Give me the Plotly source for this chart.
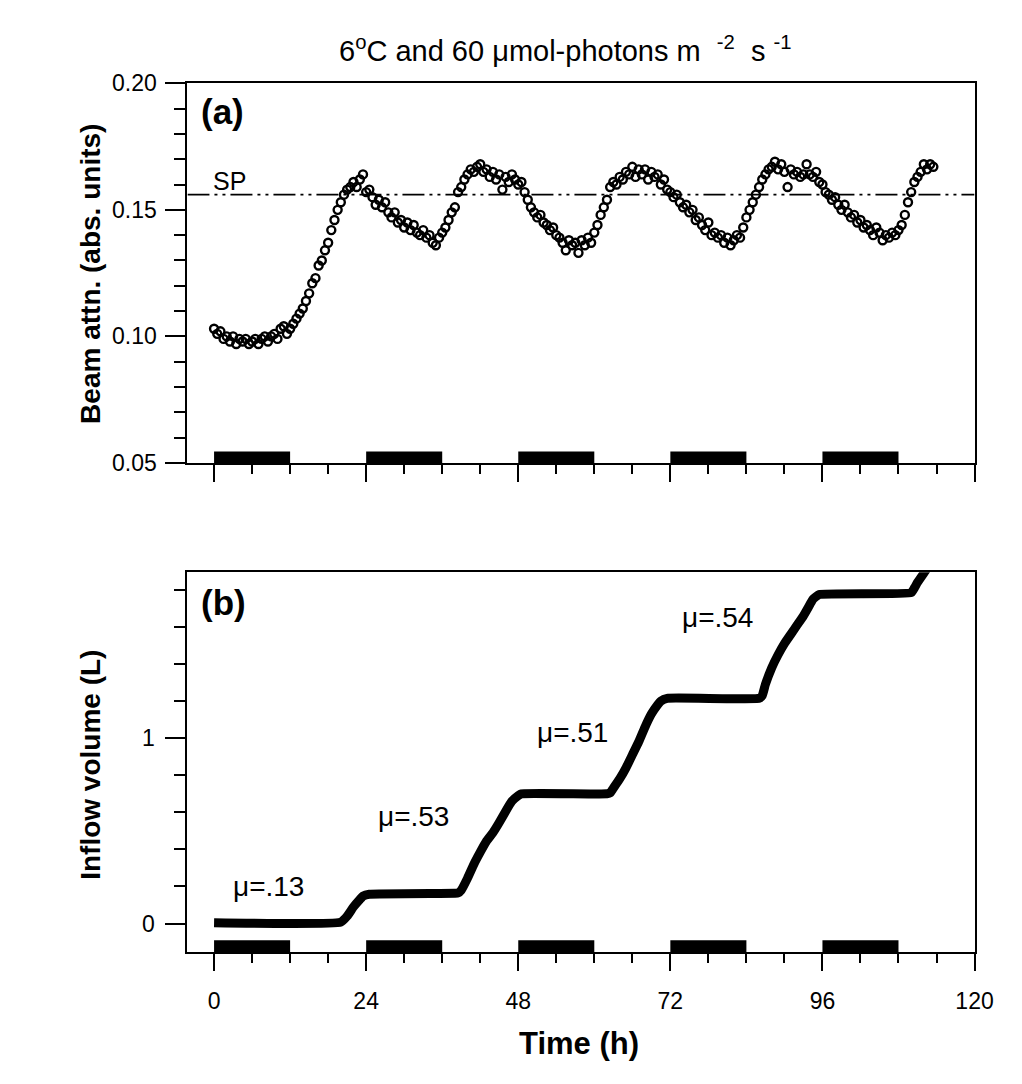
import plotly.graph_objects as go

# ---------------- data ----------------
beam_time = [0, 0.5, 1, 1.5, 2, 2.5, 3, 3.5, 4, 4.5, 5, 5.5, 6, 6.5, 7, 7.5, 8, 8.5, 9, 9.5,
             10, 10.5, 11, 11.5, 12, 12.5, 13, 13.5, 14, 14.5, 15, 15.5, 16, 16.5, 17, 17.5, 18, 18.5, 19, 19.5,
             20, 20.5, 21, 21.5, 22, 22.5, 23, 23.5, 24, 24.5, 25, 25.5, 26, 26.5, 27, 27.5, 28, 28.5, 29, 29.5,
             30, 30.5, 31, 31.5, 32, 32.5, 33, 33.5, 34, 34.5, 35, 35.5, 36, 36.5, 37, 37.5, 38, 38.5, 39, 39.5,
             40, 40.5, 41, 41.5, 42, 42.5, 43, 43.5, 44, 44.5, 45, 45.5, 46, 46.5, 47, 47.5, 48, 48.5, 49, 49.5,
             50, 50.5, 51, 51.5, 52, 52.5, 53, 53.5, 54, 54.5, 55, 55.5, 56, 56.5, 57, 57.5, 58, 58.5, 59, 59.5,
             60, 60.5, 61, 61.5, 62, 62.5, 63, 63.5, 64, 64.5, 65, 65.5, 66, 66.5, 67, 67.5, 68, 68.5, 69, 69.5,
             70, 70.5, 71, 71.5, 72, 72.5, 73, 73.5, 74, 74.5, 75, 75.5, 76, 76.5, 77, 77.5, 78, 78.5, 79, 79.5,
             80, 80.5, 81, 81.5, 82, 82.5, 83, 83.5, 84, 84.5, 85, 85.5, 86, 86.5, 87, 87.5, 88, 88.5, 89, 89.5,
             90, 90.5, 91, 91.5, 92, 92.5, 93, 93.5, 94, 94.5, 95, 95.5, 96, 96.5, 97, 97.5, 98, 98.5, 99, 99.5,
             100, 100.5, 101, 101.5, 102, 102.5, 103, 103.5, 104, 104.5, 105, 105.5, 106, 106.5, 107, 107.5, 108, 108.5, 109, 109.5,
             110, 110.5, 111, 111.5, 112, 112.5, 113, 113.5]

beam_attn = [0.103, 0.101, 0.102, 0.099, 0.100, 0.098, 0.100, 0.097, 0.099, 0.098,
             0.099, 0.097, 0.098, 0.099, 0.097, 0.099, 0.100, 0.098, 0.100, 0.101,
             0.099, 0.103, 0.104, 0.101, 0.103, 0.105, 0.107, 0.109, 0.111, 0.114,
             0.117, 0.121, 0.123, 0.128, 0.130, 0.134, 0.137, 0.142, 0.146, 0.150,
             0.153, 0.156, 0.158, 0.159, 0.161, 0.159, 0.162, 0.164, 0.157, 0.158,
             0.155, 0.152, 0.154, 0.151, 0.153, 0.149, 0.147, 0.149, 0.145, 0.146,
             0.143, 0.145, 0.142, 0.144, 0.141, 0.140, 0.142, 0.139, 0.140, 0.137,
             0.136, 0.139, 0.141, 0.143, 0.146, 0.149, 0.151, 0.157, 0.159, 0.162,
             0.164, 0.166, 0.165, 0.167, 0.168, 0.165, 0.166, 0.163, 0.165, 0.162,
             0.164, 0.158, 0.163, 0.161, 0.164, 0.162, 0.160, 0.161, 0.157, 0.154,
             0.151, 0.149, 0.147, 0.148, 0.145, 0.144, 0.142, 0.143, 0.140, 0.139,
             0.137, 0.134, 0.138, 0.136, 0.137, 0.133, 0.138, 0.136, 0.139, 0.137,
             0.141, 0.144, 0.148, 0.151, 0.154, 0.159, 0.161, 0.160, 0.163, 0.162,
             0.165, 0.164, 0.167, 0.163, 0.166, 0.164, 0.166, 0.162, 0.165, 0.163,
             0.164, 0.160, 0.162, 0.158, 0.157, 0.155, 0.156, 0.153, 0.151, 0.152,
             0.149, 0.150, 0.146, 0.147, 0.144, 0.142, 0.145, 0.140, 0.141, 0.139,
             0.140, 0.137, 0.139, 0.136, 0.138, 0.140, 0.139, 0.143, 0.147, 0.150,
             0.153, 0.156, 0.159, 0.162, 0.164, 0.166, 0.167, 0.169, 0.166, 0.168,
             0.165, 0.159, 0.166, 0.164, 0.165, 0.163, 0.164, 0.168, 0.164, 0.163,
             0.165, 0.161, 0.160, 0.157, 0.156, 0.154, 0.155, 0.152, 0.150, 0.152,
             0.149, 0.147, 0.148, 0.145, 0.146, 0.143, 0.144, 0.142, 0.140, 0.143,
             0.141, 0.138, 0.140, 0.139, 0.141, 0.140, 0.142, 0.144, 0.148, 0.153,
             0.157, 0.161, 0.163, 0.165, 0.168, 0.166, 0.168, 0.167]

sp_level = 0.156

inflow_time = [0, 20, 21, 22, 23, 23.5, 24.5, 38, 38.5, 39, 40, 41, 42, 43, 44, 45, 46, 47, 48, 48.5,
               62, 62.5, 63, 64, 65, 66, 67, 68, 69, 70, 70.5, 71.5,
               86, 86.5, 87, 88, 89, 90, 91, 92, 93, 94, 94.5, 95.5,
               110, 110.5, 111, 112, 113, 113.5]
inflow_vol = [0.005, 0.008, 0.04, 0.09, 0.13, 0.148, 0.158, 0.163, 0.165, 0.18, 0.245, 0.32, 0.385, 0.445, 0.49, 0.545, 0.605, 0.66, 0.69, 0.70,
              0.70, 0.705, 0.73, 0.78, 0.84, 0.91, 0.98, 1.06, 1.13, 1.18, 1.20, 1.215,
              1.215, 1.23, 1.29, 1.38, 1.45, 1.51, 1.56, 1.61, 1.66, 1.72, 1.75, 1.775,
              1.785, 1.81, 1.84, 1.89, 1.94, 1.96]

night_start = [0, 24, 48, 72, 96]
night_end = [12, 36, 60, 84, 108]
bar_top_a = 0.0545
bar_top_b = -0.09

mu_labels = ["\u03bc=.13", "\u03bc=.53", "\u03bc=.51", "\u03bc=.54"]
mu_x = [8.6, 31.4, 56.6, 79.4]
mu_y = [0.2, 0.58, 1.03, 1.65]

x_ticks = [0, 24, 48, 72, 96, 120]

# ---------------- figure ----------------
W, H = 1022, 1084
FONT = "Liberation Sans, Arial, Helvetica, sans-serif"
XRANGE = [-4.2, 120]
YRANGE_A = [0.05, 0.20]
YRANGE_B = [-0.153, 1.895]
NB = "\u00a0"

def px_x(p):
    return p / W

def px_y(p):
    return 1 - p / H

fig = go.Figure()

fig.add_trace(go.Scatter(
    x=[XRANGE[0], XRANGE[1]], y=[sp_level, sp_level], mode="lines",
    line=dict(color="black", width=1.6, dash="22px,5px,3px,5px,3px,5px"),
    xaxis="x", yaxis="y", showlegend=False, hoverinfo="skip"))

fig.add_trace(go.Scatter(
    x=beam_time, y=beam_attn, mode="markers",
    marker=dict(symbol="circle-open", size=8, color="black", line=dict(width=2.4, color="black")),
    xaxis="x", yaxis="y", showlegend=False))

fig.add_trace(go.Scatter(
    x=inflow_time, y=inflow_vol, mode="lines",
    line=dict(color="black", width=9, shape="spline", smoothing=0.4),
    xaxis="x2", yaxis="y2", showlegend=False))

shapes = []
for s, e in zip(night_start, night_end):
    shapes.append(dict(type="rect", xref="x", yref="y", x0=s, x1=e, y0=YRANGE_A[0], y1=bar_top_a,
                       fillcolor="black", line=dict(width=0), layer="above"))
    shapes.append(dict(type="rect", xref="x2", yref="y2", x0=s, x1=e, y0=YRANGE_B[0], y1=bar_top_b,
                       fillcolor="black", line=dict(width=0), layer="above"))

title_text = ("6<sup>o</sup>C and 60 \u03bcmol-photons m" + NB + NB + "<sup>-2</sup>" + NB + NB
              + "s" + NB + "<sup>-1</sup>")

annotations = [
    dict(text=title_text,
         xref="paper", yref="paper", x=px_x(576), y=px_y(37), xanchor="center", yanchor="middle",
         showarrow=False, font=dict(family=FONT, size=29, color="black")),
    dict(text="<b>(a)</b>", xref="paper", yref="paper", x=px_x(203), y=px_y(101),
         xanchor="left", yanchor="middle", showarrow=False, font=dict(family=FONT, size=35, color="black")),
    dict(text="<b>(b)</b>", xref="paper", yref="paper", x=px_x(203), y=px_y(604),
         xanchor="left", yanchor="middle", showarrow=False, font=dict(family=FONT, size=35, color="black")),
    dict(text="SP", xref="paper", yref="paper", x=px_x(215), y=px_y(172),
         xanchor="left", yanchor="middle", showarrow=False, font=dict(family=FONT, size=25, color="black")),
    dict(text="<b>Beam attn. (abs. units)</b>", xref="paper", yref="paper", x=px_x(92), y=px_y(267),
         xanchor="center", yanchor="middle", textangle=-90, showarrow=False,
         font=dict(family=FONT, size=28, color="black")),
    dict(text="<b>Inflow volume (L)</b>", xref="paper", yref="paper", x=px_x(92), y=px_y(770),
         xanchor="center", yanchor="middle", textangle=-90, showarrow=False,
         font=dict(family=FONT, size=28, color="black")),
    dict(text="<b>Time (h)</b>", xref="paper", yref="paper", x=px_x(590), y=px_y(1056),
         xanchor="center", yanchor="middle", showarrow=False, font=dict(family=FONT, size=31, color="black")),
]
for t, xx, yy in zip(mu_labels, mu_x, mu_y):
    annotations.append(dict(text=t, xref="x2", yref="y2", x=xx, y=yy, xanchor="center", yanchor="middle",
                            showarrow=False, font=dict(family=FONT, size=28, color="black")))

common_x = dict(range=XRANGE, tickvals=x_ticks, ticks="outside", ticklen=17, tickwidth=2, tickcolor="black",
                showline=True, linewidth=2, linecolor="black", mirror=True, showgrid=False, zeroline=False,
                minor=dict(dtick=6, tick0=0, ticks="outside", ticklen=9, tickwidth=2, tickcolor="black", showgrid=False),
                domain=[px_x(191), px_x(993)])

fig.update_layout(
    width=W, height=H, margin=dict(l=0, r=0, t=0, b=0),
    paper_bgcolor="white", plot_bgcolor="white",
    font=dict(family=FONT, size=22, color="black"),
    xaxis=dict(anchor="y", showticklabels=False, **common_x),
    yaxis=dict(anchor="x", domain=[px_y(461), px_y(72)], range=YRANGE_A,
               tickvals=[0.05, 0.10, 0.15, 0.20], tickformat=".2f",
               ticks="outside", ticklen=20, tickwidth=2, tickcolor="black",
               showline=True, linewidth=2, linecolor="black", mirror=True, showgrid=False, zeroline=False,
               minor=dict(dtick=0.01, tick0=0.05, ticks="outside", ticklen=11, tickwidth=2, tickcolor="black", showgrid=False),
               tickfont=dict(family=FONT, size=23), ticklabelstandoff=4),
    xaxis2=dict(anchor="y2", showticklabels=True, tickfont=dict(family=FONT, size=23),
                ticklabelstandoff=10, **common_x),
    yaxis2=dict(anchor="x2", domain=[px_y(962), px_y(573)], range=YRANGE_B,
                tickvals=[0, 1], ticks="outside", ticklen=20, tickwidth=2, tickcolor="black",
                showline=True, linewidth=2, linecolor="black", mirror=True, showgrid=False, zeroline=False,
                minor=dict(dtick=0.2, tick0=0, ticks="outside", ticklen=11, tickwidth=2, tickcolor="black", showgrid=False),
                tickfont=dict(family=FONT, size=23), ticklabelstandoff=6),
    shapes=shapes,
    annotations=annotations,
)

fig.write_html("out.html")
